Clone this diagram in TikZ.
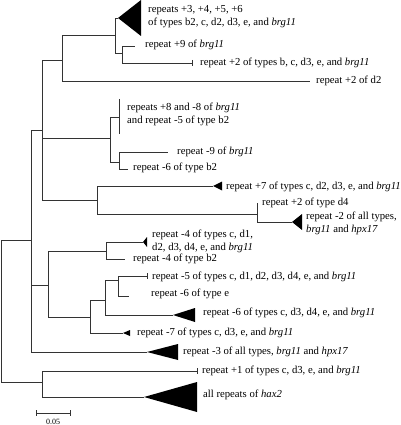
\documentclass[tikz,border=0pt]{standalone}
\usepackage{fontspec}
\setmainfont{Liberation Serif}
\newcommand{\brg}{\textit{brg11}}
\newcommand{\hpx}{\textit{hpx17}}
\tikzset{
  branch/.style={draw=black!80, line width=0.6pt},
  leaf/.style={anchor=west, inner sep=0pt, align=left, font=\fontsize{10.7}{13}\selectfont},
  clade/.style={fill=black},
}

\begin{document}
\begin{tikzpicture}[x=1pt, y=-1pt]
  \useasboundingbox (0,0) rectangle (400,425);
  \coordinate (R) at (1,311);
  \coordinate (A) at (31,240);
  \coordinate (Z) at (42,382);
  \coordinate (B) at (42,130);
  \coordinate (K) at (48,285);
  \coordinate (C) at (62,60);
  \coordinate (D) at (115,35);
  \coordinate (E) at (122,53);
  \coordinate (F0) at (110,138);
  \coordinate (F) at (119,117);
  \coordinate (F1) at (119,99);
  \coordinate (F2) at (119,134);
  \coordinate (G) at (119,162);
  \coordinate (P) at (97,200);
  \coordinate (H) at (257,214);
  \coordinate (L) at (106,251);
  \coordinate (M) at (90,317);
  \coordinate (N) at (105,300);
  \coordinate (O) at (118,280);
  \coordinate (t1) at (118,18);
  \coordinate (l2) at (135,46);
  \coordinate (l3) at (192,63);
  \coordinate (l4) at (310,81);
  \coordinate (l6) at (168,152);
  \coordinate (l7) at (128,169);
  \coordinate (t8) at (213,186);
  \coordinate (l9) at (257,203);
  \coordinate (t10) at (292,222);
  \coordinate (t11) at (143,242);
  \coordinate (l12) at (125,259);
  \coordinate (l13) at (147,276);
  \coordinate (l14) at (129,296);
  \coordinate (t15) at (173,315);
  \coordinate (t16) at (123,333);
  \coordinate (t17) at (147,352);
  \coordinate (l18) at (197,371);
  \coordinate (t19) at (144,397);

  \draw[branch] (R) |- (A) (R) |- (Z);
  \draw[branch] (A) |- (B) (A) |- (K) (A) |- (t17);
  \draw[branch] (B) |- (C) (B) |- (F0) (B) |- (P);
  \draw[branch] (C) |- (D) (C) |- (l4);
  \draw[branch] (D) |- (t1) (D) |- (E);
  \draw[branch] (E) |- (l2) (E) |- (l3);
  \draw[branch] (F0) |- (F) (F0) |- (G);
  \draw[branch] (F1) -- (F2);
  \draw[branch] (G) |- (l6) (G) |- (l7);
  \draw[branch] (P) |- (t8) (P) |- (H);
  \draw[branch] (H) -- (l9) (H) |- (t10);
  \draw[branch] (K) |- (L) (K) |- (M);
  \draw[branch] (L) |- (t11) (L) |- (l12);
  \draw[branch] (M) |- (N) (M) |- (t16);
  \draw[branch] (N) |- (O) (N) |- (t15);
  \draw[branch] (O) |- (l13) (O) |- (l14);
  \draw[branch] (Z) |- (l18) (Z) |- (t19);

  \draw[branch] (l3) ++(0,-3) -- ++(0,6);
  \draw[branch] (l13) ++(0,-3) -- ++(0,6);
  \draw[branch] (l18) ++(0,-3) -- ++(0,6);

  \fill[clade] (t1) -- ++(23,-18) -- ++(0,36) -- cycle;
  \fill[clade] (t8) -- ++(9,-4.5) -- ++(0,9) -- cycle;
  \fill[clade] (t10) -- ++(10,-8) -- ++(0,16) -- cycle;
  \fill[clade] (t11) -- ++(4,-5) -- ++(0,10) -- cycle;
  \fill[clade] (t15) -- ++(22,-7) -- ++(0,14) -- cycle;
  \fill[clade] (t16) -- ++(7,-3) -- ++(0,6) -- cycle;
  \fill[clade] (t17) -- ++(31,-8) -- ++(0,16) -- cycle;
  \fill[clade] (t19) -- ++(53,-15) -- ++(0,30) -- cycle;

  \node[leaf] (n1) at (148,16.5) {repeats +3, +4, +5, +6\\of types b2, c, d2, d3, e, and \brg};
  \node[leaf] (n2) at (145,45) {repeat +9 of \brg};
  \node[leaf] (n3) at (200,63) {repeat +2 of types b, c, d3, e, and \brg};
  \node[leaf] (n4) at (316,81) {repeat +2 of d2};
  \node[leaf] (n5) at (127,114) {repeats +8 and -8 of \brg\\and repeat -5 of type b2};
  \node[leaf] (n6) at (177,152) {repeat -9 of \brg};
  \node[leaf] (n7) at (133,168) {repeat -6 of type b2};
  \node[leaf] (n8) at (226,187) {repeat +7 of types c, d2, d3, e, and \brg};
  \node[leaf] (n9) at (262,203) {repeat +2 of type d4};
  \node[leaf] (n10) at (306,223.5) {repeat -2 of all types,\\\brg{} and \hpx};
  \node[leaf] (n11) at (152,241.5) {repeat -4 of types c, d1,\\d2, d3, d4, e, and \brg};
  \node[leaf] (n12) at (133,259) {repeat -4 of type b2};
  \node[leaf] (n13) at (152,277) {repeat -5 of types c, d1, d2, d3, d4, e, and \brg};
  \node[leaf] (n14) at (151,294) {repeat -6 of type e};
  \node[leaf] (n15) at (203,313) {repeat -6 of types c, d3, d4, e, and \brg};
  \node[leaf] (n16) at (137,333) {repeat -7 of types c, d3, e, and \brg};
  \node[leaf] (n17) at (183,352) {repeat -3 of all types, \brg{} and \hpx};
  \node[leaf] (n18) at (202,371) {repeat +1 of types c, d3, e, and \brg};
  \node[leaf] (n19) at (203,395) {all repeats of \textit{hax2}};

  \coordinate (s0) at (36,413);
  \coordinate (s1) at (70,413);
  \draw[branch] (s0) -- (s1);
  \draw[branch] (s0) ++(0,-3) -- ++(0,6) (s1) ++(0,-3) -- ++(0,6);
  \node[font=\fontsize{8}{9}\selectfont, inner sep=0pt] (sl) at (53,422) {0.05};
\end{tikzpicture}
\end{document}
